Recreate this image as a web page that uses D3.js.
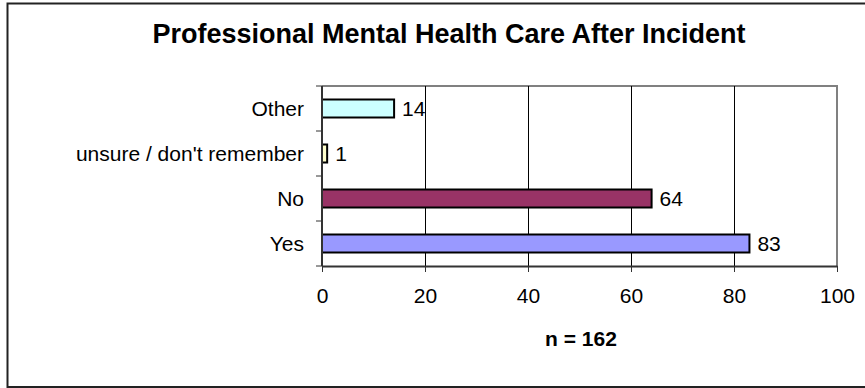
<!DOCTYPE html>
<html>
<head>
<meta charset="utf-8">
<script src="https://cdn.jsdelivr.net/npm/d3@7"></script>
<style>
  html, body { margin: 0; padding: 0; background: #fff; }
  svg { display: block; font-family: "Liberation Sans", Arial, sans-serif; }
</style>
</head>
<body>
<svg id="chart" width="865" height="388"></svg>
<script>
// Responses, listed top to bottom as shown on the vertical axis
const categories = ["Other", "unsure / don't remember", "No", "Yes"];
const counts = [14, 1, 64, 83];
const barColors = ["#CCFFFF", "#FFFFCC", "#993366", "#9999FF"];
const xTicks = [0, 20, 40, 60, 80, 100];
const titleText = "Professional Mental Health Care After Incident";
const footnote = "n = 162";

const svg = d3.select("#chart");
const fontFamily = "Liberation Sans, Arial, sans-serif";

// Outer chart frame
svg.append("rect")
  .attr("x", 7.5).attr("y", 3.5)
  .attr("width", 870).attr("height", 383.5)
  .attr("fill", "#fff")
  .attr("stroke", "#222").attr("stroke-width", 2);

const plot = { left: 322, right: 837, top: 86, bottom: 266 };

const x = d3.scaleLinear().domain([0, 100]).range([plot.left, plot.right]);
const y = d3.scaleBand().domain(categories).range([plot.top, plot.bottom]).paddingInner(0.6).paddingOuter(0.3);

// Title
svg.append("text")
  .attr("x", 449).attr("y", 43)
  .attr("text-anchor", "middle")
  .attr("font-weight", "bold").attr("font-size", 27)
  .attr("fill", "#000")
  .text(titleText);

// Plot border (top and right)
svg.append("path")
  .attr("d", `M${plot.left},${plot.top}H${plot.right}V${plot.bottom}`)
  .attr("fill", "none").attr("stroke", "#808080").attr("stroke-width", 2);

// Vertical gridlines
svg.append("g")
  .selectAll("line")
  .data(xTicks.filter(t => t > 0 && t < 100))
  .join("line")
  .attr("x1", d => Math.round(x(d)) + 0.5).attr("x2", d => Math.round(x(d)) + 0.5)
  .attr("y1", plot.top).attr("y2", plot.bottom)
  .attr("stroke", "#000").attr("stroke-width", 1);

// Bars
svg.append("g")
  .selectAll("rect")
  .data(categories)
  .join("rect")
  .attr("x", x(0))
  .attr("y", d => y(d))
  .attr("width", (d, i) => x(counts[i]) - x(0))
  .attr("height", y.bandwidth())
  .attr("fill", (d, i) => barColors[i])
  .attr("stroke", "#000").attr("stroke-width", 2);

// Value labels
svg.append("g")
  .selectAll("text")
  .data(categories)
  .join("text")
  .attr("x", (d, i) => x(counts[i]) + 8)
  .attr("y", d => y(d) + y.bandwidth() / 2)
  .attr("dy", "0.36em")
  .attr("font-size", 21).attr("fill", "#000")
  .text((d, i) => counts[i]);

// X axis
const xAxis = d3.axisBottom(x).tickValues(xTicks).tickSize(6).tickPadding(16).tickSizeOuter(0);
const gx = svg.append("g")
  .attr("transform", `translate(0,${plot.bottom})`)
  .call(xAxis);
gx.select(".domain").attr("stroke", "#333").attr("stroke-width", 2);
gx.selectAll(".tick line").attr("stroke", "#333");
gx.selectAll(".tick text").attr("font-size", 21).attr("fill", "#000")
  .attr("font-family", fontFamily);

// Y axis: ticks between categories
const yAxisG = svg.append("g");
yAxisG.append("line")
  .attr("x1", plot.left).attr("x2", plot.left)
  .attr("y1", plot.top).attr("y2", plot.bottom)
  .attr("stroke", "#333").attr("stroke-width", 2);
const boundaries = d3.range(categories.length + 1).map(i => plot.top + i * (plot.bottom - plot.top) / categories.length);
yAxisG.selectAll("line.tick")
  .data(boundaries)
  .join("line")
  .attr("class", "tick")
  .attr("x1", plot.left - 6).attr("x2", plot.left)
  .attr("y1", d => d).attr("y2", d => d)
  .attr("stroke", "#333").attr("stroke-width", 1);
yAxisG.selectAll("text")
  .data(categories)
  .join("text")
  .attr("x", plot.left - 18)
  .attr("y", d => y(d) + y.bandwidth() / 2)
  .attr("dy", "0.36em")
  .attr("text-anchor", "end")
  .attr("font-size", 21).attr("fill", "#000")
  .text(d => d);

// Sample size note
svg.append("text")
  .attr("x", 581).attr("y", 346)
  .attr("text-anchor", "middle")
  .attr("font-weight", "bold").attr("font-size", 21)
  .attr("fill", "#000")
  .text(footnote);
</script>
</body>
</html>
